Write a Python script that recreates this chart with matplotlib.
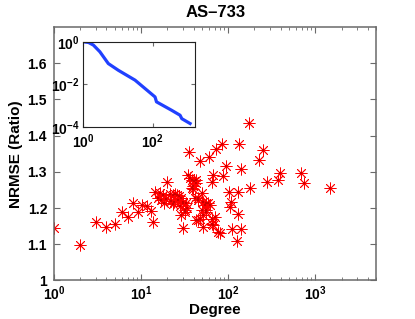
import numpy as np
import matplotlib
import matplotlib.pyplot as plt
from matplotlib.ticker import FixedLocator, NullLocator

matplotlib.use("agg")

plt.rcParams["font.family"] = ["Liberation Sans", "DejaVu Sans"]
plt.rcParams["font.weight"] = "bold"
plt.rcParams["mathtext.fontset"] = "custom"
plt.rcParams["mathtext.rm"] = "Liberation Sans:bold"
plt.rcParams["mathtext.bf"] = "Liberation Sans:bold"
plt.rcParams["mathtext.it"] = "Liberation Sans:bold"
plt.rcParams["mathtext.default"] = "bf"

# scatter data: degree vs NRMSE ratio
degree = [
    1.0, 2.0, 3.0, 4.0, 5.0, 6.0, 7.0, 8.0, 9.1, 10.3,
    11.6, 13.0, 13.8, 14.4, 15.5, 16.4, 17.0, 17.7, 18.5, 19.5,
    20.0, 21.5, 22.0, 23.0, 23.5, 24.0, 24.5, 26.0, 26.5, 27.5,
    28.0, 29.0, 29.0, 30.5, 30.5, 30.5, 32.0, 32.0, 33.0, 33.5,
    34.6, 35.6, 36.5, 38.0, 38.0, 39.0, 39.0, 40.0, 41.5, 42.6,
    43.0, 43.0, 45.0, 45.0, 45.3, 47.5, 48.0, 49.5, 49.5, 51.5,
    51.5, 51.5, 54.0, 55.0, 56.0, 56.0, 59.0, 60.0, 61.5, 64.5,
    64.5, 64.5, 67.5, 67.5, 70.0, 72.0, 77.0, 80.5, 85.0, 86.0,
    93.0, 102.0, 106.0, 108.0, 109.0, 127.0, 130.0, 130.0, 133.0, 140.0,
    140.0, 172.0, 177.0, 224.0, 251.0, 282.0, 373.0, 390.0, 692.0, 743.0,
    1462.0,
]
nrmse = [
    1.144, 1.097, 1.162, 1.148, 1.155, 1.190, 1.174, 1.215, 1.190, 1.208,
    1.206, 1.193, 1.162, 1.245, 1.228, 1.241, 1.222, 1.236, 1.215, 1.225,
    1.273, 1.240, 1.220, 1.235, 1.210, 1.218, 1.238, 1.236, 1.222, 1.232,
    1.205, 1.228, 1.181, 1.213, 1.144, 1.218, 1.194, 1.190, 1.213, 1.199,
    1.290, 1.354, 1.283, 1.278, 1.255, 1.262, 1.252, 1.275, 1.227, 1.278,
    1.270, 1.167, 1.222, 1.167, 1.227, 1.171, 1.330, 1.241, 1.194, 1.148,
    1.218, 1.181, 1.208, 1.190, 1.213, 1.194, 1.213, 1.340, 1.208, 1.273,
    1.171, 1.157, 1.290, 1.153, 1.176, 1.363, 1.134, 1.132, 1.378, 1.288,
    1.317, 1.245, 1.202, 1.218, 1.142, 1.110, 1.243, 1.183, 1.378, 1.307,
    1.142, 1.435, 1.255, 1.333, 1.361, 1.272, 1.278, 1.298, 1.298, 1.269,
    1.256,
]

# inset: complementary cumulative degree distribution
ccdf_deg = [1, 1.41, 1.95, 3.0, 5.25, 10.2, 31, 117, 129, 355, 617, 692, 1200]
ccdf_val = [1, 0.93, 0.70, 0.34, 0.095, 0.046, 0.0158, 0.00257, 0.00151,
            0.000603, 0.000355, 0.000245, 0.000145]

axis_col = "#6a6a6a"

fig = plt.figure(figsize=(4.15, 3.19), dpi=100)
ax = fig.add_axes([0.130, 0.121, 0.777, 0.794])
ax.plot(degree, nrmse, linestyle="none", marker=(8, 2, 0), markersize=8.5,
        markeredgewidth=0.6, color="red")
ax.plot(degree, nrmse, linestyle="none", marker="s", markersize=1.6,
        markeredgewidth=0, color="#cc0000")
ax.set_xscale("log")
ax.set_xlim(1, 10 ** 3.7)
ax.set_ylim(1, 1.7)
ax.set_yticks([1, 1.1, 1.2, 1.3, 1.4, 1.5, 1.6])
ax.set_yticklabels(["1", "1.1", "1.2", "1.3", "1.4", "1.5", "1.6"])
ax.set_xticks([1, 10, 100, 1000])
ax.set_xticklabels([r"$10^{0}$", r"$10^{1}$", r"$10^{2}$", r"$10^{3}$"])
ax.tick_params(which="both", direction="in", top=True, right=True,
               labelsize=10, color=axis_col)
ax.tick_params(axis="y", pad=5)
ax.tick_params(axis="x", pad=3)
ax.tick_params(which="major", length=4)
ax.tick_params(which="minor", length=2)
for s in ax.spines.values():
    s.set_color(axis_col)
    s.set_linewidth(1.1)
ax.set_xlabel("Degree", fontsize=11, fontweight="bold", labelpad=0)
ax.set_ylabel("NRMSE (Ratio)", fontsize=11, fontweight="bold", labelpad=3)
ax.set_title("AS\u2013733", fontsize=12, fontweight="bold", pad=7)

ins = fig.add_axes([0.2008, 0.602, 0.269, 0.267])
ins.plot(ccdf_deg, ccdf_val, color="#2040ff", linewidth=2.3)
ins.set_xscale("log")
ins.set_yscale("log")
ins.set_xlim(1, 10 ** 3.22)
ins.set_ylim(1e-4, 1)
ins.xaxis.set_major_locator(FixedLocator([1, 100]))
ins.yaxis.set_major_locator(FixedLocator([1e-4, 1e-2, 1]))
ins.xaxis.set_minor_locator(NullLocator())
ins.yaxis.set_minor_locator(NullLocator())
ins.set_xticklabels([r"$10^{0}$", r"$10^{2}$"])
ins.set_yticklabels([r"$10^{-4}$", r"$10^{-2}$", r"$10^{0}$"])
ins.tick_params(which="both", direction="in", top=True, right=True,
                labelsize=10, length=3, color=axis_col, pad=3)
ins.tick_params(axis="x", pad=4)
for s in ins.spines.values():
    s.set_color("#222222")

fig.savefig("out.png", dpi=100)
